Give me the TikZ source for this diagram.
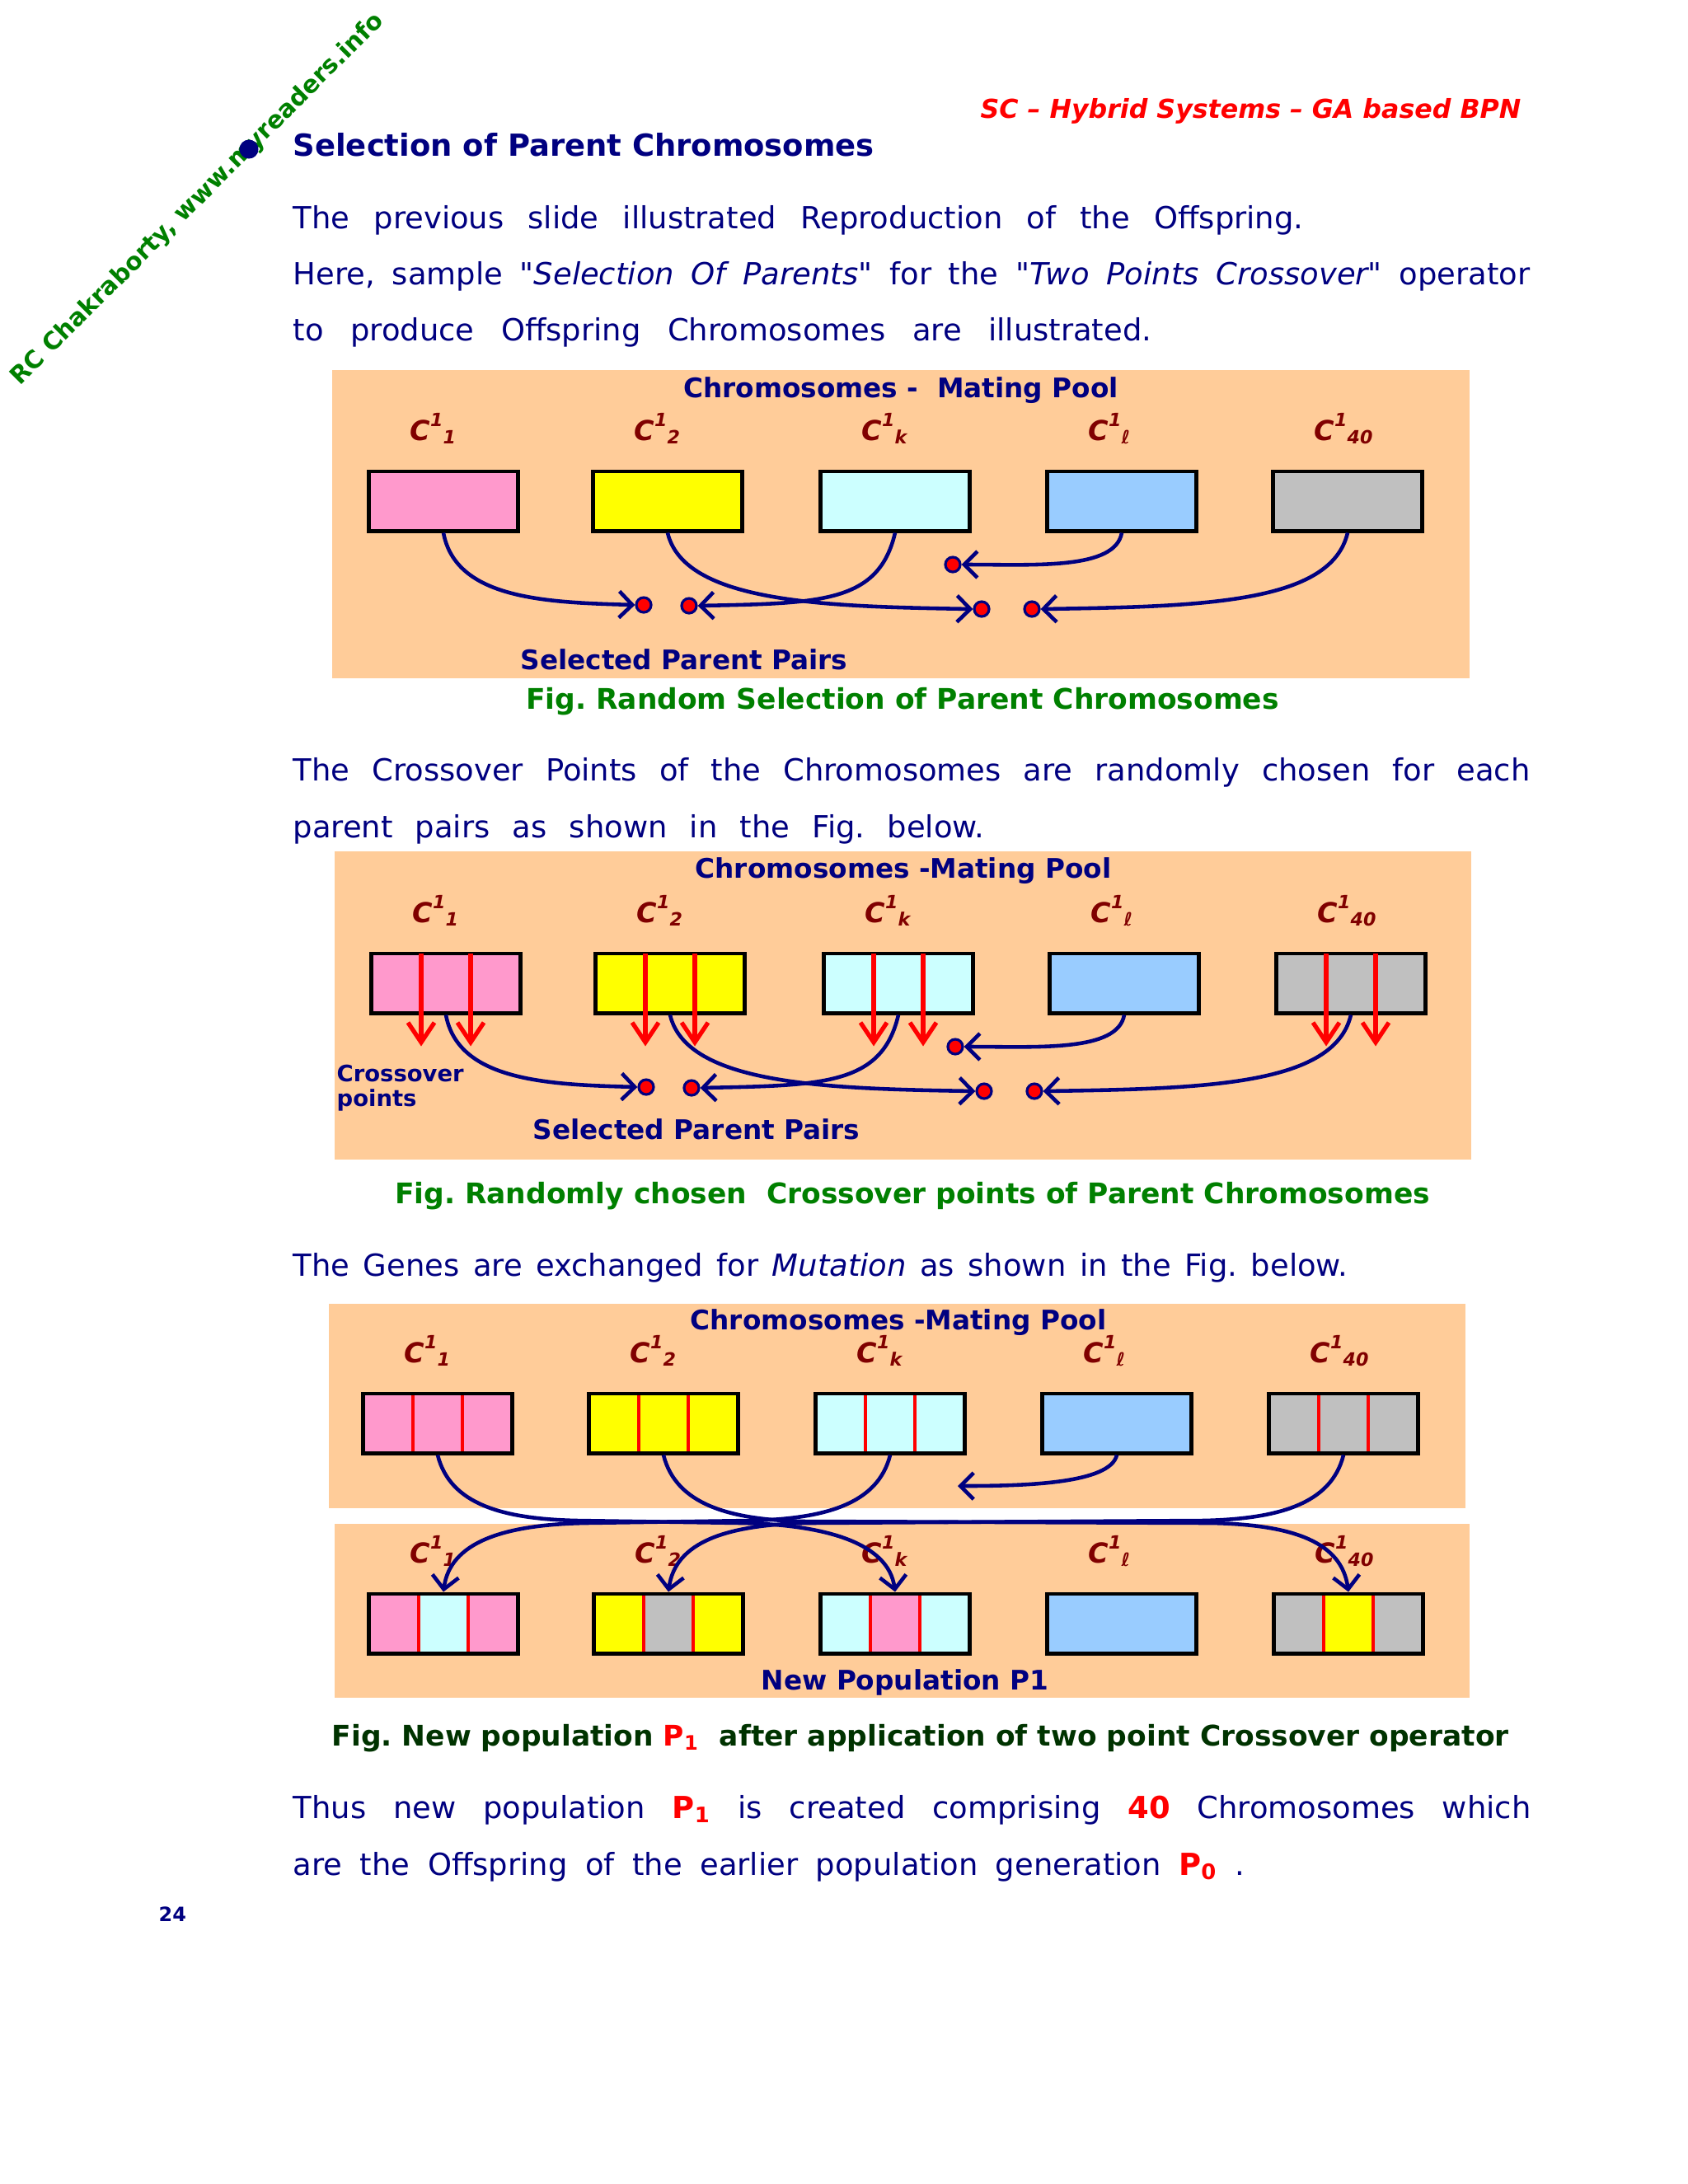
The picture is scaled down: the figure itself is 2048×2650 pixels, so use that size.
\documentclass[tikz,border=0pt]{standalone}
\usepackage{fontspec}
\setmainfont{DejaVu Sans}
\usetikzlibrary{arrows.meta}
\definecolor{navy}{RGB}{0,0,128}
\definecolor{peach}{RGB}{255,204,153}
\definecolor{genepink}{RGB}{255,153,204}
\definecolor{geneyellow}{RGB}{255,255,0}
\definecolor{genecyan}{RGB}{204,255,255}
\definecolor{geneblue}{RGB}{153,204,255}
\definecolor{genegray}{RGB}{192,192,192}
\definecolor{labred}{RGB}{128,0,0}
\definecolor{figgreen}{RGB}{0,128,0}
\definecolor{darkfig}{RGB}{0,51,0}
\newcommand{\chromlab}[1]{C{\fontsize{6.3}{7}\selectfont\raisebox{4.6pt}{1}\raisebox{-1.3pt}{#1}}}
\frenchspacing
\begin{document}
\begin{tikzpicture}[x=0.01cm, y=-0.01cm,
    body/.style={text=navy, font=\fontsize{10.5}{12.6}\selectfont, anchor=base west, inner sep=0pt},
    head/.style={text=navy, font=\bfseries\fontsize{10.5}{12.6}\selectfont, anchor=base west, inner sep=0pt},
    pooltext/.style={text=navy, font=\bfseries\fontsize{9.3}{11}\selectfont, anchor=base, inner sep=0pt},
    figcap/.style={text=figgreen, font=\bfseries\fontsize{9.8}{11.8}\selectfont, anchor=base, inner sep=0pt},
    clab/.style={text=labred, font=\bfseries\itshape\fontsize{9.5}{11}\selectfont, anchor=base west, inner sep=0pt},
    chromo/.style={draw=black, line width=1.4pt, minimum width=1.81cm, minimum height=0.72cm, inner sep=0pt},
    swapped/.style 2 args={chromo, fill=#1, path picture={
        \fill[#2] ([xshift=-0.3cm]path picture bounding box.south) rectangle ([xshift=0.3cm]path picture bounding box.north);
        \draw[red, line width=1.4pt] ([xshift=-0.3cm]path picture bounding box.south) -- ([xshift=-0.3cm]path picture bounding box.north)
            ([xshift=0.3cm]path picture bounding box.south) -- ([xshift=0.3cm]path picture bounding box.north);}},
    dot/.style={circle, fill=red, draw=navy, line width=0.9pt, minimum size=0.18cm, inner sep=0pt},
    link/.style={draw=navy, line width=1.3pt, -{Straight Barb[length=0.16cm, width=0.32cm]}},
    cut/.style={draw=red, line width=1.5pt, -{Straight Barb[length=0.24cm, width=0.32cm]}}]
\fill[white] (0,0) rectangle (2048,2650);
\useasboundingbox (0,0) rectangle (2048,2650);
\node[text=figgreen, font=\bfseries\fontsize{8.4}{10}\selectfont, rotate=45, inner sep=0pt] (mark) at (240,242) {RC Chakraborty, www.myreaders.info};
\node[circle, fill=navy, minimum size=0.23cm, inner sep=0pt] (bullet) at (302,181) {};
\node[text=red, font=\bfseries\itshape\fontsize{9}{11}\selectfont, anchor=base east, inner sep=0pt] (header) at (1846,143) {SC – Hybrid Systems – GA based BPN};
\node[head] (title) at (355,189) {Selection of Parent Chromosomes};
\node[body] (intro1) at (355,277) {\makebox[12.25cm][s]{The previous slide illustrated Reproduction of the Offspring.}};
\node[body] (intro2) at (355,345) {\makebox[15cm][s]{Here, sample \textit{\textquotedbl Selection Of Parents\textquotedbl} for the \textit{\textquotedbl Two Points Crossover\textquotedbl} operator}};
\node[body] (intro3) at (355,413) {\makebox[10.41cm][s]{to produce Offspring Chromosomes are illustrated.}};
\node[body] (cross1) at (355,947) {\makebox[15cm][s]{The Crossover Points of the Chromosomes are randomly chosen for each}};
\node[body] (cross2) at (355,1016) {\makebox[8.38cm][s]{parent pairs as shown in the Fig. below.}};
\node[body] (genes) at (355,1548) {\makebox[12.79cm][s]{The Genes are exchanged for \textit{Mutation} as shown in the Fig. below.}};
\node[body] (thus1) at (355,2206) {\makebox[15.01cm][s]{Thus new population {\color{red}\bfseries P\textsubscript{1}} is created comprising {\color{red}\bfseries 40} Chromosomes which}};
\node[body] (thus2) at (355,2275) {\makebox[11.54cm][s]{are the Offspring of the earlier population generation {\color{red}\bfseries P\textsubscript{0}} .}};
\node[text=navy, font=\bfseries\fontsize{6.8}{8}\selectfont, anchor=base west, inner sep=0pt] (page) at (192,2331) {24};
\fill[peach] (403,449) rectangle (1783,823);
\fill[peach] (406,1033) rectangle (1785,1407);
\fill[peach] (399,1582) rectangle (1778,1830);
\fill[peach] (406,1849) rectangle (1783,2060);
\node[pooltext] (pool1) at (1093,482) {Chromosomes - ~Mating Pool};
\node[pooltext] (pairs1) at (830,812) {Selected Parent Pairs};
\node[figcap] (fig1) at (1095,860) {Fig. Random Selection of Parent Chromosomes};
\node[pooltext] (pool2) at (1096,1065) {Chromosomes -Mating Pool};
\node[pooltext, anchor=base west, font=\bfseries\fontsize{7.8}{9}\selectfont] (xo1) at (408,1312) {Crossover};
\node[pooltext, anchor=base west, font=\bfseries\fontsize{7.8}{9}\selectfont] (xo2) at (408,1342) {points};
\node[pooltext] (pairs2) at (845,1382) {Selected Parent Pairs};
\node[figcap] (fig2) at (1107,1460) {Fig. Randomly chosen ~Crossover points of Parent Chromosomes};
\node[pooltext] (pool3) at (1090,1613) {Chromosomes -Mating Pool};
\node[pooltext] (newpop) at (1098,2050) {New Population P1};
\node[figcap, text=darkfig, anchor=base west] (fig3) at (402,2118) {Fig. New population {\color{red}P\textsubscript{1}} ~after application of two point Crossover operator};
\node[chromo, fill=genepink] (sel1) at (538,608) {};
\node[chromo, fill=geneyellow] (sel2) at (810,608) {};
\node[chromo, fill=genecyan] (sel3) at (1086,608) {};
\node[chromo, fill=geneblue] (sel4) at (1361,608) {};
\node[chromo, fill=genegray] (sel5) at (1635,608) {};
\node[chromo, fill=genepink] (cx1) at (541,1193) {};
\node[chromo, fill=geneyellow] (cx2) at (813,1193) {};
\node[chromo, fill=genecyan] (cx3) at (1090,1193) {};
\node[chromo, fill=geneblue] (cx4) at (1364,1193) {};
\node[chromo, fill=genegray] (cx5) at (1639,1193) {};
\node[swapped={genepink}{genepink}] (mp1) at (531,1727) {};
\node[swapped={geneyellow}{geneyellow}] (mp2) at (805,1727) {};
\node[swapped={genecyan}{genecyan}] (mp3) at (1080,1727) {};
\node[chromo, fill=geneblue] (mp4) at (1355,1727) {};
\node[swapped={genegray}{genegray}] (mp5) at (1630,1727) {};
\node[swapped={genepink}{genecyan}] (np1) at (538,1970) {};
\node[swapped={geneyellow}{genegray}] (np2) at (811,1970) {};
\node[swapped={genecyan}{genepink}] (np3) at (1086,1970) {};
\node[chromo, fill=geneblue] (np4) at (1361,1970) {};
\node[swapped={genegray}{geneyellow}] (np5) at (1636,1970) {};
\foreach \i/\s in {1/1,2/2,3/k,4/ℓ,5/40} {
    \node[clab] (lsel\i) at ([shift={(-41,-74)}]sel\i.center) {\chromlab{\s}};
    \node[clab] (lcx\i) at ([shift={(-41,-74)}]cx\i.center) {\chromlab{\s}};
    \node[clab] (lmp\i) at ([shift={(-41,-74)}]mp\i.center) {\chromlab{\s}};
    \node[clab] (lnp\i) at ([shift={(-41,-74)}]np\i.center) {\chromlab{\s}};
}
\foreach \i in {1,2,3,5} {
    \draw[cut] ([shift={(-30,2)}]cx\i.north) -- ([shift={(-30,38)}]cx\i.south);
    \draw[cut] ([shift={(30,2)}]cx\i.north) -- ([shift={(30,38)}]cx\i.south);
}
\node[dot] (sd1) at (781,734) {};
\node[dot] (sd2) at (836,735) {};
\node[dot] (sd3) at (1191,739) {};
\node[dot] (sd4) at (1252,739) {};
\node[dot] (sd5) at (1156,685) {};
\node[dot] (cd1) at (784,1319) {};
\node[dot] (cd2) at (839,1320) {};
\node[dot] (cd3) at (1194,1324) {};
\node[dot] (cd4) at (1255,1324) {};
\node[dot] (cd5) at (1159,1270) {};
\draw[link] (sel1.south) .. controls +(15,80) and +(-110,-3) .. (sd1.west);
\draw[link] (sel2.south) .. controls +(20,85) and +(-180,-3) .. (sd3.west);
\draw[link] (sel3.south) .. controls +(-20,85) and +(150,-3) .. (sd2.east);
\draw[link] (sel4.south) .. controls +(-8,45) and +(90,0) .. (sd5.east);
\draw[link] (sel5.south) .. controls +(-20,85) and +(200,-3) .. (sd4.east);
\draw[link] (cx1.south) .. controls +(15,80) and +(-110,-3) .. (cd1.west);
\draw[link] (cx2.south) .. controls +(20,85) and +(-180,-3) .. (cd3.west);
\draw[link] (cx3.south) .. controls +(-20,85) and +(150,-3) .. (cd2.east);
\draw[link] (cx4.south) .. controls +(-8,45) and +(90,0) .. (cd5.east);
\draw[link] (cx5.south) .. controls +(-20,85) and +(200,-3) .. (cd4.east);
\coordinate (tip) at (1162,1803);
\draw[link] (mp4.south) .. controls +(-8,35) and +(80,0) .. (tip);
\draw[link] (mp1.south) .. controls +(15,60) and +(-90,-2) .. (700,1845) -- (900,1848) .. controls +(100,2) and +(-8,-60) .. (np3.north);
\draw[link] (mp3.south) .. controls +(-15,60) and +(90,-2) .. (910,1845) -- (710,1848) .. controls +(-100,2) and +(8,-60) .. (np1.north);
\draw[link] (mp2.south) .. controls +(15,60) and +(-90,-2) .. (975,1846) -- (1470,1848) .. controls +(100,2) and +(-8,-60) .. (np5.north);
\draw[link] (mp5.south) .. controls +(-15,60) and +(90,-2) .. (1460,1845) -- (980,1848) .. controls +(-100,2) and +(8,-60) .. (np2.north);
\end{tikzpicture}
\end{document}
